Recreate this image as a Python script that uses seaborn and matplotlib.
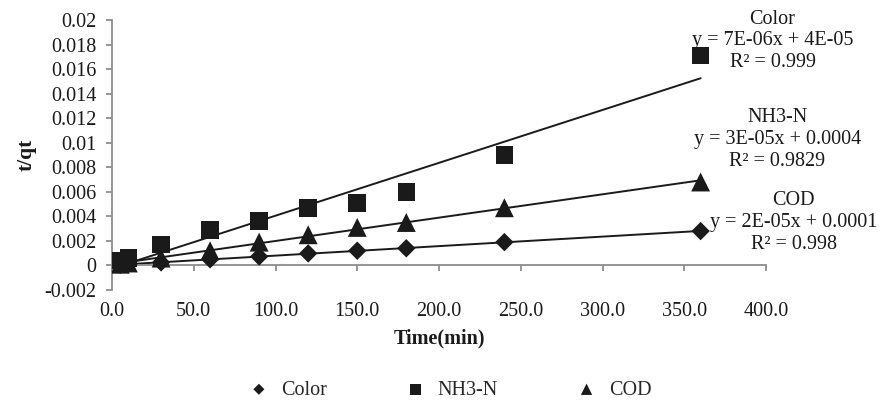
import numpy as np
import pandas as pd
import matplotlib
matplotlib.use("Agg")
import matplotlib.pyplot as plt
import seaborn as sns
from matplotlib.ticker import FuncFormatter, FormatStrFormatter

# ---- data ----
time_min = [5, 10, 30, 60, 90, 120, 150, 180, 240, 360]
color_vals = [0.00005, 0.0001, 0.00025, 0.0005, 0.00073, 0.00098, 0.0012, 0.0014, 0.0019, 0.0028]
nh3_vals = [0.0004, 0.0006, 0.0017, 0.0029, 0.0036, 0.0047, 0.0051, 0.0060, 0.0090, 0.0171]
cod_vals = [0.0001, 0.0002, 0.0006, 0.0012, 0.0019, 0.0025, 0.0031, 0.0035, 0.0047, 0.0068]
series_names = ["Color", "NH3-N", "COD"]
x_ticks = [0, 50, 100, 150, 200, 250, 300, 350, 400]
y_ticks = [-0.002, 0, 0.002, 0.004, 0.006, 0.008, 0.010, 0.012, 0.014, 0.016, 0.018, 0.020]
eq_titles = ["Color", "NH3-N", "COD"]
eq_lines = ["y = 7E-06x + 4E-05", "y = 3E-05x + 0.0004", "y = 2E-05x + 0.0001"]
r2_lines = ["R² = 0.999", "R² = 0.9829", "R² = 0.998"]

sns.set_theme(style="white")
plt.rcParams["font.family"] = ["Liberation Serif", "DejaVu Serif"]
plt.rcParams["axes.unicode_minus"] = False

ink = "#1a1a1a"
gray = "#8c8c8c"
FS = 14.5

df = pd.DataFrame({
    "Time": time_min * 3,
    "tq": color_vals + nh3_vals + cod_vals,
    "Series": [n for n in series_names for _ in time_min],
})

fig = plt.figure(figsize=(8.81, 4.05), dpi=100)
ax = fig.add_axes([112 / 881, 115 / 405, 654 / 881, 270 / 405])

markers = {"Color": "D", "NH3-N": "s", "COD": "^"}
sizes = {"Color": 88, "NH3-N": 160, "COD": 185}
for name in series_names:
    sub = df[df["Series"] == name]
    sns.regplot(data=sub, x="Time", y="tq", scatter=False, ci=None, truncate=True,
                color=ink, line_kws=dict(lw=1.4, zorder=2), ax=ax)
    sns.scatterplot(data=sub, x="Time", y="tq", marker=markers[name], s=sizes[name],
                    color=ink, edgecolor="none", ax=ax, zorder=3, label=name, legend=False)

ax.set_xlim(0, 400)
ax.set_ylim(-0.002, 0.020)
ax.set_xticks(x_ticks)
ax.set_yticks(y_ticks)
ax.xaxis.set_major_formatter(FormatStrFormatter("%.1f"))
ax.yaxis.set_major_formatter(FuncFormatter(lambda v, p: "0" if abs(v) < 1e-12 else ("%g" % round(v, 6))))

for s in ["top", "right"]:
    ax.spines[s].set_visible(False)
ax.spines["bottom"].set_position(("data", 0))
ax.spines["left"].set_color(gray)
ax.spines["bottom"].set_color(gray)
ax.spines["left"].set_linewidth(1.3)
ax.spines["bottom"].set_linewidth(1.3)
ax.tick_params(axis="x", direction="out", length=4, width=1.3, color=gray, pad=22,
               labelsize=FS, labelcolor=ink, bottom=True)
ax.tick_params(axis="y", direction="out", length=4, width=1.3, color=gray, pad=7,
               labelsize=FS, labelcolor=ink, left=True)

ax.set_xlabel("Time(min)", fontsize=FS, fontweight="bold", color=ink, labelpad=6)
ax.set_ylabel("t/qt", fontsize=FS + 1, fontweight="bold", color=ink, labelpad=6)
ax.grid(False)

ann_pos = [(404, 0.0183), (407, 0.01027), (417, 0.0035)]
for (x, y), t, e, r in zip(ann_pos, eq_titles, eq_lines, r2_lines):
    ax.text(x, y, f"{t}\n{e}\n{r}", ha="center", va="center", fontsize=FS,
            color=ink, linespacing=1.2, clip_on=False, zorder=4)

handles, labels = ax.get_legend_handles_labels()
hl = [(h, l) for h, l in zip(handles, labels) if l in series_names]
fig.legend([h for h, _ in hl], [l for _, l in hl], loc="center",
           bbox_to_anchor=(450 / 881, 15 / 405), ncol=3, frameon=False,
           fontsize=FS, markerscale=0.6, columnspacing=3.9, handletextpad=0.6,
           handlelength=1.0)

fig.savefig("out.png", dpi=100)
